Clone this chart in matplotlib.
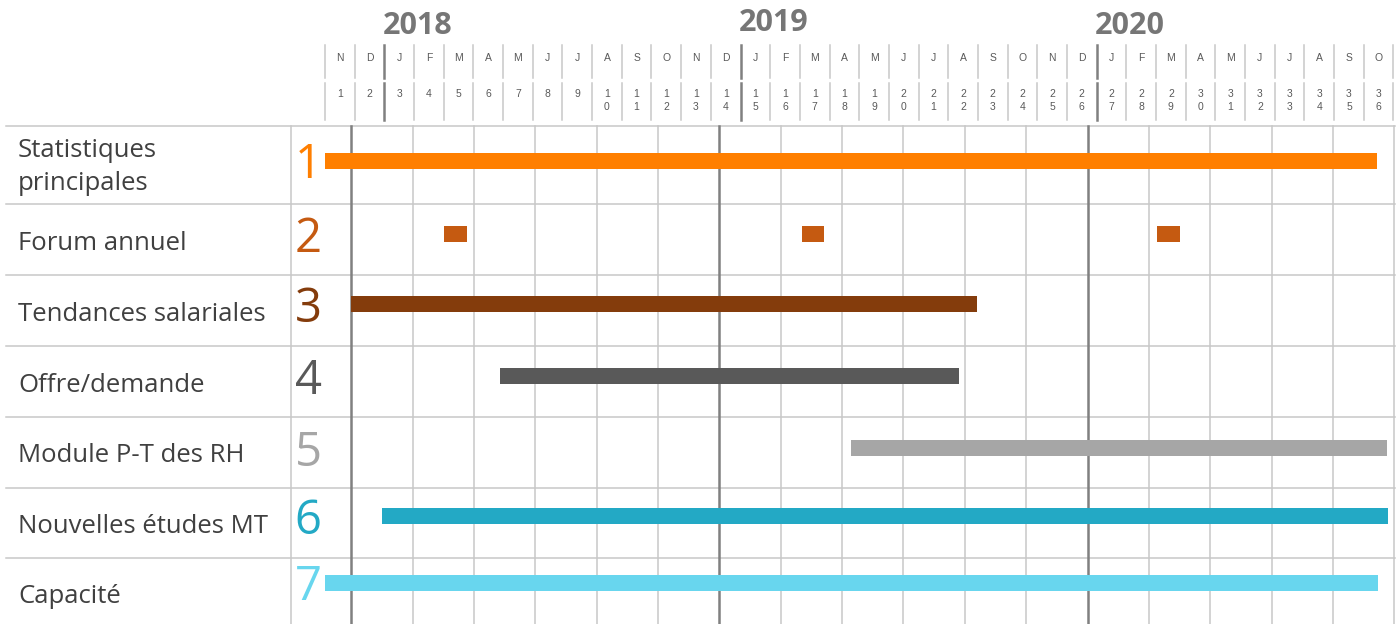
import matplotlib.pyplot as plt

# --- donnees (mois depuis debut nov. 2017) ---
tasks = ['Statistiques\nprincipales', 'Forum annuel', 'Tendances salariales',
         'Offre/demande', 'Module P-T des RH', 'Nouvelles études MT', 'Capacité']
task_nums = ['1', '2', '3', '4', '5', '6', '7']
task_start = [0.0, None, 0.88, 5.91, 17.73, 1.93, 0.0]
task_end = [35.45, None, 21.97, 21.36, 35.78, 35.8, 35.47]
forum_start = [4.02, 16.07, 28.04]
forum_len = [0.76, 0.75, 0.77]
month_letters = ['N', 'D', 'J', 'F', 'M', 'A', 'M', 'J', 'J', 'A', 'S', 'O',
                 'N', 'D', 'J', 'F', 'M', 'A', 'M', 'J', 'J', 'A', 'S', 'O',
                 'N', 'D', 'J', 'F', 'M', 'A', 'M', 'J', 'J', 'A', 'S', 'O']
month_nums = list(range(1, 37))
years = ['2018', '2019', '2020']
year_month = [2, 14, 26]

colors = ['#FF7F00', '#C55A11', '#843C0C', '#595959', '#A6A6A6', '#23A9C5', '#68D6EE']

# --- mise en page (pixels) ---
W, H = 1397, 624
x0, mw = 325.0, 29.68
row_lines = [126, 204, 275, 346, 417, 488, 558]
row_text = [166, 240, 311, 382, 452, 523, 593]
bar_y = [161, 234, 304, 376, 448, 516, 583]
light = '#c8c8c8'
dark = '#808080'


def px2m(px):
    return (px - x0) / mw


fig = plt.figure(figsize=(W / 100, H / 100), dpi=100)
ax = fig.add_axes([0, 0, 1, 1])
ax.set_xlim(px2m(0), px2m(W))
ax.set_ylim(H, 0)
ax.axis('off')

# grille du corps
for y in row_lines:
    ax.plot([px2m(6), px2m(1395)], [y, y], color=light, lw=1.1, zorder=1)
ax.plot([px2m(291), px2m(291)], [126, H], color=light, lw=1.1, zorder=1)
for k in range(18):
    gx = px2m(351.3 + k * 61.35)
    thick = k % 6 == 0
    ax.plot([gx, gx], [126, H], color=dark if thick else light,
            lw=1.8 if thick else 1.1, zorder=1)

# entete
for k in range(37):
    thick = k in year_month
    for y1, y2 in [(45, 78), (83, 120)]:
        ax.plot([k, k], [y1, y2], color=dark if thick else light,
                lw=1.8 if thick else 1.1, zorder=1)
for i, m in enumerate(month_letters):
    ax.text(i + 0.5, 58, m, ha='center', va='center', fontsize=7.5,
            family='Liberation Sans', color='#595959')
for i, n in enumerate(month_nums):
    ax.text(i + 0.5, 89, '\n'.join(str(n)), ha='center', va='top', fontsize=7.5,
            family='Liberation Sans', color='#595959', linespacing=1.4)
for yr, m, yy in zip(years, year_month, [26, 23, 26]):
    ax.text(m - 0.05, yy, yr, ha='left', va='center', fontsize=22,
            family='Open Sans', fontweight='bold', color='#767676')

# libelles et numeros
for i, t in enumerate(tasks):
    if '\n' in t:
        ax.text(px2m(18), row_text[i] + 1, t, ha='left', va='center', fontsize=18.5,
                family='Open Sans', color='#404040', linespacing=1.38)
    else:
        ax.text(px2m(18), row_text[i] + 10, t, ha='left', va='baseline', fontsize=18.5,
                family='Open Sans', color='#404040')
    ax.text(px2m(308), bar_y[i] + 17.5, task_nums[i], ha='center', va='baseline',
            fontsize=34, family='Open Sans', color=colors[i])

# barres
for i in range(7):
    if task_start[i] is None:
        continue
    ax.barh(bar_y[i], task_end[i] - task_start[i], left=task_start[i], height=16,
            color=colors[i], zorder=3)
ax.barh([bar_y[1]] * 3, forum_len, left=forum_start, height=16, color=colors[1], zorder=3)

plt.savefig('out.png', dpi=100)
